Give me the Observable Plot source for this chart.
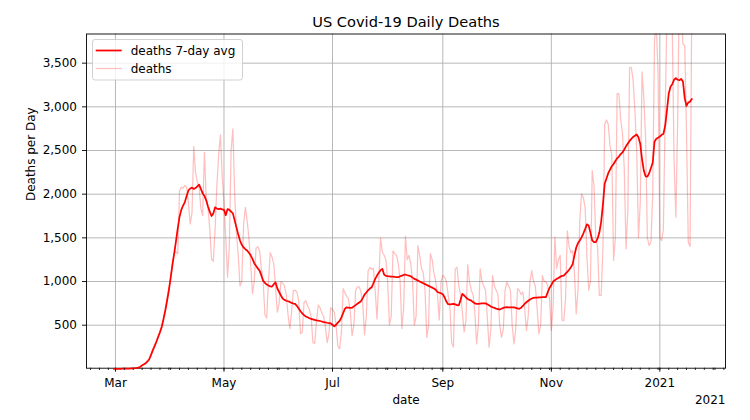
<!DOCTYPE html>
<html><head><meta charset="utf-8">
<script src="https://cdn.jsdelivr.net/npm/d3@7"></script>
<script src="https://cdn.jsdelivr.net/npm/@observablehq/plot@0.6"></script>
<style>
html,body{margin:0;padding:0;background:#fff;}
#chart{position:relative;width:750px;height:420px;}
</style></head><body><div id="chart"></div>
<script>
// first day of the series (daily values follow, one per day)
const startDate = "2020-02-29";

// daily deaths, grouped by week (Sun..Sat)
const deaths = [
  1,
  0,1,1,2,2,3,2,
  3,4,6,7,9,13,18,
  28,42,55,70,90,120,170,
  220,270,320,380,430,500,580,
  680,800,920,1050,1200,1330,1340,
  1317,2040,2080,2070,2100,2080,1900,
  1660,1780,2546,2250,2140,2080,1840,
  1755,2480,1950,1850,1600,1260,1230,
  1600,2100,2450,2680,2200,1900,1500,
  1050,1400,2500,2748,2000,1550,1300,
  950,1000,1650,1850,1700,1500,1200,
  860,1000,1380,1400,1350,1150,1000,
  620,580,1000,1330,1280,1200,920,
  650,750,1000,980,950,850,620,
  460,650,900,900,880,780,400,
  420,760,780,720,680,600,300,
  290,550,730,700,640,600,480,
  300,400,700,680,650,500,260,
  230,420,920,870,830,800,650,
  380,500,900,940,940,880,750,
  390,600,1120,1160,1140,1150,900,
  570,1000,1500,1340,1300,1250,1000,
  500,600,1350,1320,1300,1200,1000,
  460,700,1520,1250,1300,1200,1000,
  500,600,1410,1300,1150,1100,900,
  360,500,1320,1250,1100,1000,850,
  560,1000,1070,1050,1000,850,700,
  300,250,1145,1163,950,850,650,
  420,550,1190,1000,900,850,650,
  286,500,1145,1000,950,900,600,
  248,450,1068,950,900,850,500,
  362,450,900,992,950,900,500,
  286,450,916,900,850,880,700,
  439,600,1000,1125,1000,950,700,
  401,500,1068,1000,1000,950,800,
  440,700,1510,1150,1250,1300,560,
  550,800,1580,1400,1330,1354,1100,
  630,900,1700,2004,1960,1850,1300,
  900,1000,2271,2100,1500,1400,840,
  840,1350,2800,2850,2800,2550,2450,
  1240,1500,3150,3150,2850,2700,2300,
  1374,1800,3450,3450,3300,2958,2500,
  1500,1900,3400,3100,2650,1500,1412,
  1450,2000,3750,3950,3400,1500,1470,
  1600,2900,4100,4050,4150,3900,2400,
  1736,2800,4400,4200,3720,3700,2700,
  1450,1400,4300
];

// 7-day average of deaths, same days
const deathsAvg = [
  0,
  0,1,1,1,2,2,3,
  3,4,5,6,8,11,15,
  25,40,52,65,85,110,160,
  215,260,310,365,420,480,570,
  668,780,900,1040,1190,1320,1460,
  1610,1740,1820,1870,1910,1980,2042,
  2065,2075,2060,2070,2090,2110,2060,
  2010,1980,1930,1860,1800,1750,1780,
  1850,1835,1830,1835,1825,1820,1760,
  1830,1820,1800,1780,1700,1620,1540,
  1470,1420,1390,1370,1355,1330,1300,
  1260,1210,1180,1150,1125,1070,1010,
  985,965,954,945,942,970,990,
  920,880,840,805,790,780,774,
  765,755,748,744,720,690,660,
  635,615,600,590,580,573,566,
  560,556,553,548,542,536,532,
  528,525,520,505,488,505,530,
  550,590,640,690,705,700,698,
  700,715,730,745,760,775,810,
  850,875,900,920,934,980,1030,
  1068,1100,1130,1145,1080,1065,1062,
  1060,1057,1055,1052,1050,1049,1060,
  1068,1075,1080,1072,1068,1060,1045,
  1030,1022,1012,1000,990,980,970,
  960,950,940,930,920,905,880,
  872,866,855,820,770,740,738,
  742,744,738,730,728,790,859,
  840,818,800,790,782,765,750,
  744,745,748,750,751,750,740,
  728,715,705,698,690,685,679,
  688,698,705,708,705,703,705,
  703,698,692,687,700,720,745,
  763,780,795,805,813,815,816,
  818,818,820,820,822,880,927,
  960,1000,1015,1030,1040,1055,1065,
  1068,1090,1110,1135,1163,1200,1300,
  1390,1440,1470,1505,1550,1600,1655,
  1640,1560,1470,1450,1450,1490,1560,
  1680,1880,2120,2180,2240,2280,2320,
  2345,2380,2410,2431,2460,2480,2510,
  2550,2580,2610,2634,2655,2670,2683,
  2650,2576,2400,2271,2205,2202,2240,
  2300,2360,2600,2634,2645,2660,2680,
  2690,2780,2960,3150,3230,3260,3310,
  3328,3310,3305,3320,3290,3100,3010,
  3050,3060,3090
];

const yTicks = [500, 1000, 1500, 2000, 2500, 3000, 3500];
const xTicks = ["2020-03-01", "2020-05-01", "2020-07-01", "2020-09-01", "2020-11-01", "2021-01-01"];
const xTickLabels = ["Mar", "May", "Jul", "Sep", "Nov", "2021"];
const titleText = "US Covid-19 Daily Deaths";
const xLabel = "date";
const yLabel = "Deaths per Day";
const xOffsetLabel = "2021";
const legendLabels = ["deaths 7-day avg", "deaths"];

const t0 = new Date(startDate + "T00:00:00Z");
const rows = deaths.map((v, i) => ({date: d3.utcDay.offset(t0, i), deaths: v, avg: deathsAvg[i]}));
const xTickDates = xTicks.map(s => new Date(s + "T00:00:00Z"));
const labelByTime = new Map(xTickDates.map((d, i) => [+d, xTickLabels[i]]));
const xDomain = [new Date("2020-02-13T17:00:00Z"), new Date("2021-02-06T22:00:00Z")];
const minorTicks = d3.utcDay.every(5).range(xDomain[0], xDomain[1]);

const FONT = "DejaVu Sans";
const chart = Plot.plot({
  width: 750, height: 420,
  marginTop: 33.5, marginBottom: 52.3, marginLeft: 86, marginRight: 25,
  style: {fontFamily: FONT, fontSize: "12px", color: "#000", background: "#fff", overflow: "visible"},
  x: {type: "utc", domain: xDomain},
  y: {domain: [7.6, 3834]},
  marks: [
    Plot.gridX(xTickDates, {stroke: "#b0b0b0", strokeOpacity: 1, strokeWidth: 0.9}),
    Plot.gridY(yTicks, {stroke: "#b0b0b0", strokeOpacity: 1, strokeWidth: 0.9}),
    Plot.lineY(rows, {x: "date", y: "deaths", stroke: "red", strokeOpacity: 0.25, strokeWidth: 1.25, clip: true}),
    Plot.frame({stroke: "#000", strokeWidth: 0.9}),
    Plot.lineY(rows, {x: "date", y: "avg", stroke: "red", strokeWidth: 1.75}),
    Plot.axisX(minorTicks, {tickSize: 2.3, tickFormat: () => "", label: null, strokeWidth: 0.8}),
    Plot.axisX(xTickDates, {tickSize: 4, tickPadding: 6.5, tickFormat: d => labelByTime.get(+d), label: null, fontSize: 12, strokeWidth: 0.9}),
    Plot.axisY(yTicks, {tickSize: 4, tickPadding: 5.5, tickFormat: d3.format(","), label: null, fontSize: 12, strokeWidth: 0.9}),
    Plot.text([titleText], {text: d => d, frameAnchor: "top", lineAnchor: "bottom", dy: -6.8, fontSize: 14.6}),
    Plot.text([xLabel], {text: d => d, frameAnchor: "bottom", lineAnchor: "bottom", dy: 35.3, fontSize: 12}),
    Plot.text([xOffsetLabel], {text: d => d, frameAnchor: "bottom-right", textAnchor: "end", lineAnchor: "bottom", dy: 35.8, fontSize: 12}),
    Plot.text([yLabel], {text: d => d, frameAnchor: "left", rotate: -90, dx: -55, fontSize: 12})
  ]
});

// legend (upper left, matplotlib style)
const svg = d3.select(chart);
const lg = svg.append("g").attr("font-family", FONT).attr("font-size", 12).attr("text-anchor", "start");
lg.append("rect").attr("x", 92.5).attr("y", 39.5).attr("width", 150).attr("height", 40.5)
  .attr("rx", 2.5).attr("fill", "#fff").attr("fill-opacity", 0.8).attr("stroke", "#cccccc").attr("stroke-width", 0.9);
const legendStyles = [{op: 1, w: 1.75}, {op: 0.25, w: 1.25}];
legendLabels.forEach((lab, i) => {
  const cy = 50.5 + i * 18;
  lg.append("line").attr("x1", 95.7).attr("x2", 121.7).attr("y1", cy).attr("y2", cy)
    .attr("stroke", "red").attr("stroke-opacity", legendStyles[i].op).attr("stroke-width", legendStyles[i].w);
  lg.append("text").attr("x", 130.7).attr("y", cy + 4.4).attr("fill", "#000")
    .attr("text-anchor", "start").text(lab);
});

document.getElementById("chart").appendChild(chart);
</script>
</body></html>
